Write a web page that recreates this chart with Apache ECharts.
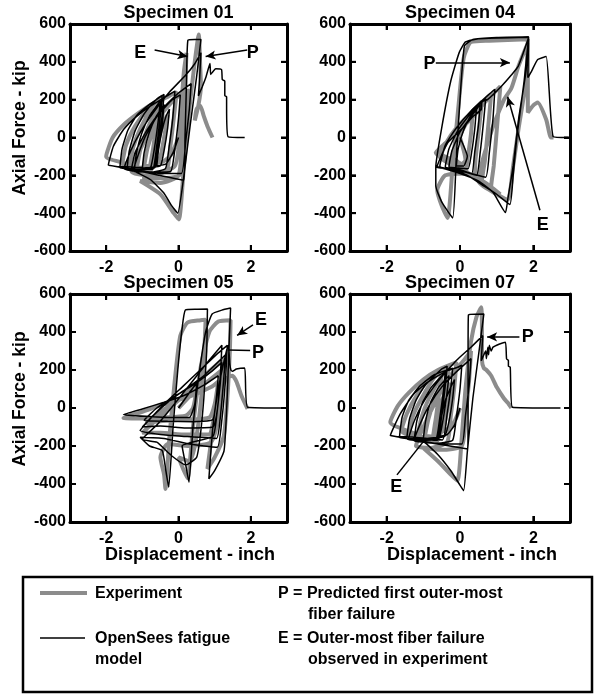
<!DOCTYPE html>
<html><head><meta charset="utf-8">
<script src="https://cdn.jsdelivr.net/npm/echarts@6/dist/echarts.min.js"></script>
<style>html,body{margin:0;padding:0;background:#fff}#c{width:596px;height:694px}</style>
</head><body><div id="c"></div>
<script>
const FONT = '"Liberation Sans", Arial, Helvetica, sans-serif';
const specimenTitles = ['Specimen 01','Specimen 04','Specimen 05','Specimen 07'];
const xTickValues = [-2, 0, 2];
const yTickValues = [-600, -400, -200, 0, 200, 400, 600];
const xAxisName = 'Displacement - inch';
const yAxisName = 'Axial Force - kip';
const legendExperiment = 'Experiment';
const legendModel = ['OpenSees fatigue', 'model'];
const legendP = ['P = Predicted first outer-most', 'fiber failure'];
const legendE = ['E = Outer-most fiber failure', 'observed in experiment'];

// Specimen 01
const s01Exp = [
[0,0],[-0.2,-90],[-0.45,-130],[-0.7,-135],
[-0.6,-40],[-0.45,60],[-0.3,120],
[-0.38,20],[-0.5,-100],[-0.65,-150],[-0.95,-150],
[-0.85,-50],[-0.65,60],[-0.42,150],
[-0.5,40],[-0.62,-90],[-0.75,-160],[-1.15,-160],
[-1.05,-60],[-0.85,50],[-0.55,170],
[-0.62,60],[-0.72,-80],[-0.85,-165],[-1.35,-155],
[-1.25,-50],[-1.05,50],[-0.7,170],[-0.5,210],
[-0.58,90],[-0.7,-60],[-0.82,-170],[-1.55,-140],
[-1.45,-40],[-1.2,60],[-0.85,150],[-0.45,215],
[-0.52,100],[-0.65,-60],[-0.78,-175],[-1.4,-140],[-2.0,-100],
[-1.82,0],[-1.5,70],[-1.1,130],[-0.7,180],[-0.3,215],[-0.05,240],
[-0.12,120],[-0.22,-40],[-0.32,-170],[-0.7,-200],[-1.1,-195],[-1.3,-180],
[-1.1,-80],[-0.8,30],[-0.4,140],[0.0,220],[0.3,250],
[0.22,120],[0.12,-60],[0.02,-200],[-0.5,-215],[-1.0,-215],
[-0.1,-150],[0.05,100],[0.15,350],[0.22,447],
[0.18,250],[0.1,0],[0.0,-200],[-0.5,-240],[-1.06,-230],
[-0.5,-300],[-0.13,-400],[0.01,-433],
[0.15,-150],[0.3,150],[0.45,400],[0.56,545],
[0.6,380],[0.62,270],[0.55,170],[0.45,90],[0.5,150],[0.6,168],[0.7,113],[0.8,60],[0.94,0]
];
const s01Model = [
[0,0],[-0.15,-80],[-0.35,-140],[-0.6,-150],
[-0.55,-60],[-0.45,40],[-0.35,110],[-0.25,150],
[-0.3,50],[-0.4,-70],[-0.5,-150],[-0.8,-158],[-1.0,-162],
[-0.95,-80],[-0.82,20],[-0.62,110],[-0.4,175],
[-0.45,70],[-0.55,-60],[-0.66,-160],[-1.0,-168],[-1.22,-170],
[-1.16,-80],[-1.02,20],[-0.8,115],[-0.5,195],
[-0.56,90],[-0.66,-50],[-0.78,-162],[-1.1,-172],[-1.42,-166],
[-1.36,-70],[-1.2,35],[-0.95,125],[-0.62,200],[-0.45,222],
[-0.5,120],[-0.6,-40],[-0.72,-168],[-1.2,-166],[-1.62,-160],
[-1.56,-60],[-1.4,38],[-1.15,118],[-0.8,175],[-0.4,228],
[-0.45,120],[-0.56,-20],[-0.7,-165],[-1.3,-156],[-1.94,-146],
[-1.8,-46],[-1.52,42],[-1.15,113],[-0.78,166],[-0.3,222],[-0.1,245],
[-0.16,100],[-0.26,-50],[-0.36,-165],[-0.7,-182],[-1.05,-182],[-1.25,-176],
[-1.12,-95],[-0.92,5],[-0.6,110],[-0.2,195],[0.05,225],
[0.0,100],[-0.1,-60],[-0.22,-180],[-0.8,-184],[-1.3,-172],
[-1.2,-80],[-0.9,30],[-0.5,140],[0.0,235],[0.35,285],
[0.3,150],[0.2,-20],[0.08,-190],[-0.5,-190],[-1.1,-174],[-1.94,-146],
[-0.9,-185],[0.15,-226],
[0.18,0],[0.22,280],[0.26,514],[0.45,518],[0.62,518],
[0.5,320],[0.32,60],[0.15,-200],[-0.02,-400],
[-0.18,-363],[-0.41,-292],[-0.78,-222],[-1.24,-178],[-1.5,-165],
[-1.32,-70],[-1.05,30],[-0.7,130],[-0.25,240],[0.2,330],[0.45,390],[0.62,448],
[0.58,300],[0.55,220],[0.66,270],[0.76,320],[0.87,391],[0.89,333],[0.96,350],[1.03,363],[1.19,359],[1.21,307],[1.28,298],[1.28,222],[1.33,215],[1.33,166],[1.37,4],[1.83,0]
];

// Specimen 04
const s04Exp = [
[0,0],[0.15,-120],[0.05,-140],[-0.2,-100],
[-0.1,-30],[0.1,50],[0.35,140],
[0.3,20],[0.2,-120],[0.15,-170],[-0.3,-110],[-0.5,-90],
[-0.35,-20],[-0.1,50],[0.25,120],[0.6,190],
[0.52,50],[0.42,-120],[0.38,-210],[0.0,-150],[-0.66,-81],
[-0.4,-30],[0.0,40],[0.4,120],[0.85,230],
[0.78,80],[0.68,-120],[0.6,-230],[0.8,-270],[0.3,-200],[-0.6,-90],
[-0.3,-10],[0.1,60],[0.6,170],[1.1,270],
[1.02,80],[0.92,-150],[0.85,-260],[1.1,-300],[0.7,-240],
[0.2,-190],[-0.4,-200],[-0.62,-280],[-0.5,-360],[-0.34,-425],
[-0.2,-150],[-0.05,150],[0.1,420],[0.3,505],[0.8,512],[1.85,520],
[1.8,300],[1.6,50],[1.45,-150],[1.3,-330],[1.0,-300],[0.5,-230],
[0.8,0],[1.2,200],[1.4,260],[1.6,380],[1.85,500],
[1.85,132],[2.0,170],[2.12,185],[2.35,95],[2.48,0],[2.55,0]
];
const s04Model = [
[0,0],[0.2,-100],[0.1,-150],[-0.1,-150],
[-0.05,-60],[0.1,40],[0.3,120],[0.45,160],
[0.4,40],[0.3,-100],[0.22,-165],[-0.1,-160],[-0.3,-155],
[-0.22,-70],[0.0,30],[0.3,110],[0.55,175],
[0.5,60],[0.4,-80],[0.32,-190],[0.0,-170],[-0.4,-155],
[-0.3,-60],[-0.05,40],[0.3,130],[0.7,205],
[0.64,80],[0.55,-80],[0.45,-200],[0.0,-175],[-0.55,-152],
[-0.4,-40],[-0.1,50],[0.3,140],[0.8,230],[0.95,255],
[0.9,100],[0.8,-80],[0.7,-210],[0.2,-185],[-0.62,-152],
[-0.34,-28],[0.03,42],[0.35,110],[0.58,148],[0.6,190],[0.75,200],[1.13,271],[1.4,330],[1.59,377],[1.87,527],
[1.75,300],[1.55,0],[1.45,-200],[1.36,-354],
[1.0,-300],[0.6,-250],[0.2,-200],[-0.3,-165],[-0.66,-155],
[-0.5,50],[-0.25,300],[-0.02,450],[0.15,505],[0.5,522],[1.87,530],
[1.8,350],[1.6,100],[1.45,-150],[1.3,-330],[1.24,-397],
[0.9,-290],[0.5,-230],[0.0,-190],[-0.66,-152],
[-0.66,-257],[-0.5,-340],[-0.2,-425],
[-0.1,-100],[0.0,200],[0.12,483],[0.35,518],[1.0,528],[1.87,532],
[1.85,317],[1.95,350],[2.12,412],[2.35,428],[2.54,5],[2.95,0]
];

// Specimen 05
const s05Exp = [
[0,0],[0.3,60],[0.5,100],[0.4,0],[0.2,-40],[-0.4,-50],[-1.0,-55],[-1.52,-52],
[-1.0,-20],[-0.4,20],[0.3,60],[0.9,110],[1.1,140],
[1.0,20],[0.85,-50],[0.2,-60],[-0.5,-70],[-0.9,-80],
[-0.5,-20],[0.0,40],[0.6,110],[1.2,200],
[1.1,60],[0.95,-80],[0.85,-140],[0.2,-140],[-0.5,-130],[-1.0,-130],
[-0.6,-60],[0.0,40],[0.6,150],[1.25,260],
[1.2,100],[1.1,-60],[0.9,-180],[0.3,-200],[-0.3,-190],
[-0.5,-260],[-0.4,-350],[-0.36,-426],
[-0.25,-150],[-0.1,150],[0.05,380],[0.25,450],[0.61,462],[0.75,465],
[0.7,250],[0.6,0],[0.45,-200],[0.3,-280],
[0.0,-260],[0.15,-330],[0.25,-370],
[0.4,-100],[0.6,200],[0.85,400],[1.1,455],[1.44,462],
[1.42,300],[1.35,50],[1.25,-150],[1.0,-260],[0.8,-320],
[1.0,-50],[1.2,100],[1.35,160],[1.49,170],[1.6,140],[1.75,60],[1.91,-5]
];
const s05Model = [
[0,0],[0.3,80],[0.5,130],[0.45,20],[0.3,-50],[-0.2,-50],[-0.8,-45],[-1.52,-35],
[-1.0,-5],[-0.4,30],[0.2,70],[0.7,120],[1.1,170],
[1.05,60],[0.95,-60],[0.4,-72],[-0.3,-70],[-0.95,-65],
[-0.6,0],[-0.2,50],[0.4,120],[0.9,190],[1.2,240],
[1.15,120],[1.05,-40],[0.95,-100],[0.2,-105],[-0.5,-95],[-1.0,-100],
[-0.7,-40],[-0.3,30],[0.2,100],[0.7,170],[1.3,280],
[1.25,150],[1.15,-60],[1.05,-160],[0.2,-150],[-0.5,-140],[-1.06,-119],
[-0.8,-60],[-0.4,20],[0.1,110],[0.6,200],[1.1,290],[1.35,330],
[1.3,150],[1.2,-60],[1.07,-207],[0.3,-190],[-0.4,-160],[-1.06,-154],
[-0.8,-200],[-0.45,-224],[-0.35,-330],[-0.27,-417],
[-0.15,-100],[-0.02,200],[0.1,420],[0.19,516],[0.5,520],[0.8,521],
[0.78,300],[0.7,50],[0.6,-150],[0.5,-260],
[0.2,-300],[-0.2,-250],[-0.6,-180],[-1.0,-165],
[-0.6,-90],[-0.2,0],[0.3,120],[0.8,240],[1.2,330],
[1.15,150],[1.05,-50],[0.95,-150],
[0.1,-200],[0.2,-300],[0.29,-391],
[0.4,-100],[0.55,150],[0.75,400],[0.93,495],[1.2,515],[1.44,526],
[1.40,337],[1.35,74],[1.26,-224],[1.0,-330],[0.84,-373],
[0.95,-100],[1.1,100],[1.3,280],[1.38,330],[1.42,230],[1.45,200],[1.49,193],[1.6,205],[1.83,211],[1.91,4],[3.0,0]
];

// Specimen 07
const s07Exp = [
[0,0],[-0.2,-90],[-0.45,-120],[-0.7,-130],
[-0.6,-40],[-0.45,60],[-0.25,130],
[-0.32,20],[-0.45,-100],[-0.6,-150],[-0.95,-145],
[-0.85,-50],[-0.65,60],[-0.35,160],
[-0.42,40],[-0.55,-90],[-0.7,-160],[-1.15,-150],
[-1.05,-50],[-0.85,50],[-0.5,170],
[-0.58,60],[-0.68,-80],[-0.8,-170],[-1.4,-140],
[-1.28,-40],[-1.05,50],[-0.7,160],[-0.35,215],
[-0.42,90],[-0.55,-60],[-0.7,-180],[-1.6,-120],
[-1.45,-30],[-1.2,60],[-0.85,150],[-0.3,220],
[-0.38,100],[-0.5,-60],[-0.65,-180],[-1.3,-130],[-1.9,-75],
[-1.7,10],[-1.4,80],[-1.0,150],[-0.6,200],[-0.1,240],
[-0.15,120],[-0.25,-40],[-0.35,-180],[-0.8,-210],[-1.2,-200],
[-1.0,-100],[-0.7,20],[-0.3,160],[0.1,250],[0.3,300],
[0.25,150],[0.15,-50],[0.05,-200],[-0.5,-220],[-1.0,-210],
[-0.6,-280],[-0.25,-350],[-0.07,-382],
[0.05,-150],[0.15,100],[0.3,350],[0.45,480],[0.58,530],
[0.6,350],[0.6,250],[0.65,210],[0.72,200],[0.85,170],[1.0,110],[1.2,50],[1.31,26],[1.4,0]
];
const s07Model = [
[0,0],[-0.15,-90],[-0.35,-140],[-0.6,-150],
[-0.52,-60],[-0.4,40],[-0.25,110],[-0.15,150],
[-0.2,50],[-0.3,-70],[-0.42,-150],[-0.8,-158],[-1.0,-162],
[-0.94,-70],[-0.8,30],[-0.58,110],[-0.3,170],
[-0.36,70],[-0.46,-60],[-0.58,-160],[-1.0,-168],[-1.25,-168],
[-1.18,-70],[-1.02,30],[-0.78,110],[-0.4,190],
[-0.45,90],[-0.55,-50],[-0.66,-165],[-1.1,-170],[-1.45,-162],
[-1.38,-60],[-1.2,40],[-0.95,120],[-0.5,205],[-0.35,220],
[-0.4,120],[-0.5,-40],[-0.62,-170],[-1.2,-162],[-1.65,-155],
[-1.58,-50],[-1.4,40],[-1.1,115],[-0.7,175],[-0.2,210],
[-0.25,110],[-0.35,-30],[-0.48,-168],[-1.3,-152],[-1.90,-145],
[-1.63,-31],[-1.26,74],[-0.89,135],[-0.34,197],[-0.07,214],[0.05,225],
[0.0,100],[-0.1,-50],[-0.2,-170],[-0.6,-185],[-1.0,-180],[-1.25,-172],
[-1.1,-90],[-0.85,10],[-0.5,110],[-0.1,190],[0.3,260],
[0.25,120],[0.15,-40],[0.05,-190],[-0.5,-190],[-1.1,-172],[-1.90,-145],
[-0.9,-180],[0.21,-216],
[0.22,0],[0.22,250],[0.23,491],[0.45,494],[0.65,495],
[0.52,300],[0.35,50],[0.2,-230],[0.10,-435],
[-0.02,-400],[-0.25,-330],[-0.62,-242],[-0.98,-180],[-1.4,-160],
[-1.25,-70],[-1.0,30],[-0.6,140],[-0.1,250],[0.3,320],[0.62,381],
[0.58,249],[0.65,280],[0.7,300],[0.72,260],[0.76,320],[0.78,280],[0.8,330],[0.85,300],[0.9,320],[1.08,337],[1.24,346],[1.27,258],[1.32,250],[1.32,220],[1.37,215],[1.43,4],[2.74,0]
];

const expData = [s01Exp, s04Exp, s05Exp, s07Exp];
const modelData = [s01Model, s04Model, s05Model, s07Model];

// layout (pixels) — not data
const gridBoxes = [
  {left:70, top:24, width:217, height:227},
  {left:350, top:24, width:220, height:227},
  {left:70, top:294, width:217, height:228},
  {left:350, top:294, width:220, height:228}
];
// annotation placement in axis coordinates
const annos = [
  {letters:[['E',[-1.06,449]],['P',[2.05,449]]],
   arrows:[[[-0.66,462],[0.25,428],true],[[1.9,462],[0.75,428],true]]},
  {letters:[['P',[-0.83,386]],['E',[2.26,-462]]],
   arrows:[[[-0.66,396],[1.36,396],true],[[2.18,-385],[1.3,215],true]]},
  {letters:[['E',[2.28,463]],['P',[2.2,289]]],
   arrows:[[[2.06,437],[1.62,382],true],[[1.98,303],[1.36,305],false]]},
  {letters:[['P',[1.85,374]],['E',[-1.74,-418]]],
   arrows:[[[1.62,374],[0.74,374],true],[[-1.72,-352],[-0.93,-160],false]]}
];

const chart = echarts.init(document.getElementById('c'), null, {renderer:'canvas'});
const grids = [], xAxes = [], yAxes = [], series = [], graphics = [];
const tickStyle = {show:true, inside:true, length:6, lineStyle:{color:'#000', width:2}};
const labelStyle = {fontSize:16, fontWeight:'bold', color:'#000', fontFamily:FONT};
const lineStyleAxis = {show:true, onZero:false, lineStyle:{color:'#000', width:3}};

gridBoxes.forEach((g, i) => {
  grids.push(Object.assign({show:false}, g));
  const xb = {type:'value', gridIndex:i, min:-3, max:3, splitLine:{show:false}, axisLine:lineStyleAxis};
  xAxes.push(Object.assign({}, xb, {position:'bottom',
    axisTick:Object.assign({customValues:xTickValues}, tickStyle),
    axisLabel:Object.assign({customValues:xTickValues, margin:9}, labelStyle)}));
  xAxes.push(Object.assign({}, xb, {position:'top',
    axisTick:Object.assign({customValues:xTickValues}, tickStyle),
    axisLabel:{show:false}}));
  const yb = {type:'value', gridIndex:i, min:-600, max:600, interval:200, splitLine:{show:false}, axisLine:lineStyleAxis};
  yAxes.push(Object.assign({}, yb, {position:'left', axisTick:tickStyle,
    axisLabel:Object.assign({margin:4}, labelStyle)}));
  yAxes.push(Object.assign({}, yb, {position:'right', axisTick:tickStyle, axisLabel:{show:false}}));

  series.push({type:'line', xAxisIndex:2*i, yAxisIndex:2*i, data:expData[i], showSymbol:false,
    symbol:'none', smooth:0.2, lineStyle:{color:'#8c8c8c', width:4}, z:2, silent:true});
  const a = annos[i];
  series.push({type:'line', xAxisIndex:2*i, yAxisIndex:2*i, data:modelData[i], showSymbol:false,
    symbol:'none', smooth:0.15, lineStyle:{color:'#000', width:1.5}, z:3, silent:true,
    markLine:{silent:true, animation:false, label:{show:false},
      lineStyle:{color:'#000', width:1.5, type:'solid'},
      data:a.arrows.map(ar => [{coord:ar[0], symbol:'none'},
        {coord:ar[1], symbol: ar[2] ? 'arrow' : 'none', symbolSize: ar[2] ? [7,10] : 0}])},
    markPoint:{silent:true, animation:false,
      data:a.letters.map(l => ({coord:l[1], symbol:'circle', symbolSize:1,
        itemStyle:{color:'rgba(0,0,0,0)'},
        label:{show:true, formatter:l[0], position:'inside', fontSize:18, fontWeight:'bold', color:'#000', fontFamily:FONT}}))}
  });
  graphics.push({type:'text', x:g.left + g.width/2, y:g.top - 11,
    style:{text:specimenTitles[i], font:'bold 18px ' + FONT, fill:'#000', textAlign:'center', textVerticalAlign:'middle'}});
});
[[20,128],[20,399]].forEach(p => graphics.push({type:'text', x:p[0], y:p[1], rotation:Math.PI/2,
  style:{text:yAxisName, font:'bold 17.5px ' + FONT, fill:'#000', textAlign:'center', textVerticalAlign:'middle'}}));
[[190,555],[472,555]].forEach(p => graphics.push({type:'text', x:p[0], y:p[1],
  style:{text:xAxisName, font:'bold 18px ' + FONT, fill:'#000', textAlign:'center', textVerticalAlign:'middle'}}));
graphics.push({type:'rect', shape:{x:23, y:577, width:569, height:115},
  style:{fill:'none', stroke:'#000', lineWidth:2.5}});
graphics.push({type:'line', shape:{x1:40, y1:593, x2:87, y2:593}, style:{stroke:'#8c8c8c', lineWidth:4}});
graphics.push({type:'line', shape:{x1:40, y1:638, x2:85, y2:638}, style:{stroke:'#000', lineWidth:1.5}});
const legTexts = [
  [legendExperiment, 95, 594], [legendModel[0], 95, 639], [legendModel[1], 95, 660],
  [legendP[0], 278, 594], [legendP[1], 308, 615], [legendE[0], 278, 639], [legendE[1], 308, 660]
];
legTexts.forEach(t => graphics.push({type:'text', x:t[1], y:t[2],
  style:{text:t[0], font:'bold 16px ' + FONT, fill:'#000', textAlign:'left', textVerticalAlign:'middle'}}));

chart.setOption({
  animation:false,
  backgroundColor:'#fff',
  grid:grids, xAxis:xAxes, yAxis:yAxes, series:series, graphic:graphics
});

// inward tick marks on all four sides, placed through the axes' own scales
const tickMarks = [];
const TL = 6;
gridBoxes.forEach((g, i) => {
  const top = g.top, bottom = g.top + g.height, left = g.left, right = g.left + g.width;
  xTickValues.forEach(v => {
    const px = chart.convertToPixel({xAxisIndex: 2*i}, v);
    tickMarks.push({type:'line', shape:{x1:px, y1:bottom, x2:px, y2:bottom - TL}, style:{stroke:'#000', lineWidth:2}, z:10});
    tickMarks.push({type:'line', shape:{x1:px, y1:top, x2:px, y2:top + TL}, style:{stroke:'#000', lineWidth:2}, z:10});
  });
  yTickValues.forEach(v => {
    const py = chart.convertToPixel({yAxisIndex: 2*i}, v);
    tickMarks.push({type:'line', shape:{x1:left, y1:py, x2:left + TL, y2:py}, style:{stroke:'#000', lineWidth:2}, z:10});
    tickMarks.push({type:'line', shape:{x1:right, y1:py, x2:right - TL, y2:py}, style:{stroke:'#000', lineWidth:2}, z:10});
  });
});
chart.setOption({graphic: graphics.concat(tickMarks)});
</script></body></html>
